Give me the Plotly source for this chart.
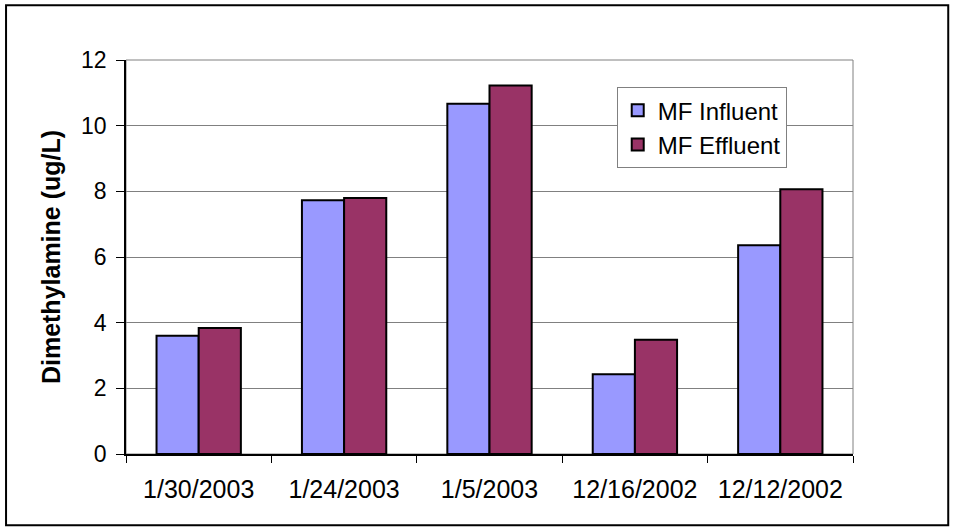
import plotly.graph_objects as go

dates = ["1/30/2003", "1/24/2003", "1/5/2003", "12/16/2002", "12/12/2002"]
mf_influent = [3.6, 7.73, 10.67, 2.43, 6.36]
mf_effluent = [3.84, 7.8, 11.22, 3.48, 8.06]
y_ticks = [0, 2, 4, 6, 8, 10, 12]

FONT = "Liberation Sans, Arial, sans-serif"

fig = go.Figure()
fig.add_bar(x=dates, y=mf_influent, name="MF Influent",
            marker={"color": "#9999FF", "line": {"color": "black", "width": 2}})
fig.add_bar(x=dates, y=mf_effluent, name="MF Effluent",
            marker={"color": "#993366", "line": {"color": "black", "width": 2}})

# outer frame of the chart and grey border of the plot area
fig.add_shape(type="rect", xref="paper", yref="paper",
              x0=-0.165, x1=1.131, y0=-0.181, y1=1.139,
              line={"color": "black", "width": 2}, layer="below")
fig.add_shape(type="rect", xref="x domain", yref="y domain",
              x0=0, x1=1, y0=0, y1=1,
              line={"color": "#808080", "width": 1}, layer="below")

fig.update_layout(
    width=955, height=531,
    margin={"l": 126, "r": 102, "t": 60, "b": 77},
    plot_bgcolor="white", paper_bgcolor="white",
    font={"family": FONT, "color": "black", "size": 24},
    barmode="group", bargap=0.42, bargroupgap=0,
    showlegend=True,
    legend={"x": 0.675, "y": 0.931, "xanchor": "left", "yanchor": "top",
            "bgcolor": "white", "bordercolor": "#808080", "borderwidth": 1,
            "font": {"size": 24}, "itemwidth": 30},
)
fig.update_xaxes(
    showline=True, linecolor="black", linewidth=1.5,
    ticks="outside", tickson="boundaries", ticklen=7, tickcolor="black",
    tickfont={"size": 25}, showgrid=False, ticklabelstandoff=12,
)
fig.update_yaxes(
    range=[0, 12], tickvals=y_ticks,
    showline=True, linecolor="black", linewidth=1.5,
    ticks="outside", ticklen=8, tickcolor="black",
    showgrid=True, gridcolor="#808080", gridwidth=1,
    tickfont={"size": 23}, ticklabelstandoff=5,
    title={"text": "<b>Dimethylamine (ug/L)</b>", "font": {"size": 25}, "standoff": 13},
    zeroline=False,
)

fig.write_html("out.html", post_script=["document.body.style.margin = '0';"],
               config={"displayModeBar": False})
